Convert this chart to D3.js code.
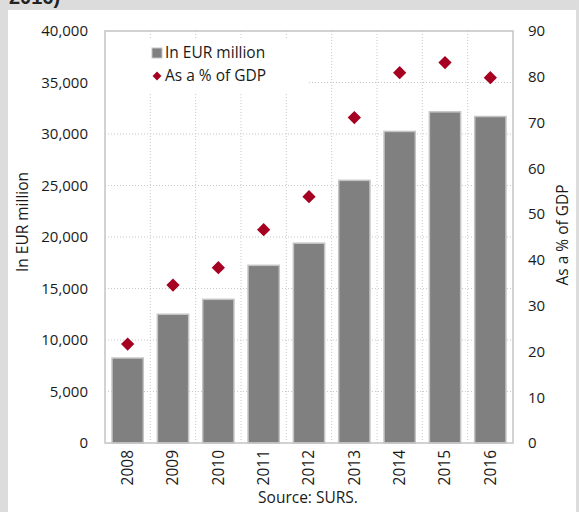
<!DOCTYPE html>
<html>
<head>
<meta charset="utf-8">
<script src="https://cdn.jsdelivr.net/npm/d3@7"></script>
<style>
  html, body { margin: 0; padding: 0; background: #dcdcdd; }
  svg { display: block; }
  text { font-family: "Open Sans", "Noto Sans", sans-serif; fill: #1a1a1a; }
</style>
</head>
<body>
<svg id="chart" width="579" height="512"></svg>
<script>
// Public debt of Slovenia, 2008-2016
const years = ["2008", "2009", "2010", "2011", "2012", "2013", "2014", "2015", "2016"];
const debtEUR = [8250, 12500, 13950, 17250, 19400, 25500, 30250, 32150, 31700];
const debtGDP = [21.6, 34.5, 38.3, 46.6, 53.8, 71.1, 80.9, 83.1, 79.8];
const leftTicks = [0, 5000, 10000, 15000, 20000, 25000, 30000, 35000, 40000];
const rightTicks = [0, 10, 20, 30, 40, 50, 60, 70, 80, 90];

const svg = d3.select("#chart");
const H = 512;
const plot = { left: 105, right: 513, top: 31, bottom: 443 };
const tickFont = "15px", labelFont = "15.5px";

// white panel on grey page
svg.append("rect").attr("x", 8).attr("y", 10).attr("width", 568).attr("height", H - 10).attr("fill", "#ffffff");

// heading line running off the top of the panel
svg.append("text").attr("x", 9).attr("y", 4)
  .style("font-family", "Liberation Sans, Arial, sans-serif")
  .style("font-weight", "bold").style("font-size", "20px").style("fill", "#222")
  .text("2016)");

const x = d3.scaleBand().domain(years).range([plot.left, plot.right]).paddingInner(0.31).paddingOuter(0.155);
const xStep = (plot.right - plot.left) / years.length;
const yL = d3.scaleLinear().domain([0, 40000]).range([plot.bottom, plot.top]);
const yR = d3.scaleLinear().domain([0, 90]).range([plot.bottom, plot.top]);

const grid = svg.append("g");
// horizontal dotted grid
grid.selectAll("line.h").data(leftTicks.filter(d => d > 0 && d < 40000)).join("line")
  .attr("x1", plot.left).attr("x2", plot.right)
  .attr("y1", d => yL(d)).attr("y2", d => yL(d))
  .attr("stroke", "#c9c9c9").attr("stroke-width", 1).attr("stroke-dasharray", "1,2");
// vertical dotted grid at category boundaries
grid.selectAll("line.v").data(d3.range(1, years.length)).join("line")
  .attr("x1", i => plot.left + i * xStep).attr("x2", i => plot.left + i * xStep)
  .attr("y1", plot.top).attr("y2", plot.bottom)
  .attr("stroke", "#c9c9c9").attr("stroke-width", 1).attr("stroke-dasharray", "1,2");

// bars
svg.append("g").selectAll("rect").data(years).join("rect")
  .attr("x", (d) => x(d))
  .attr("y", (d, i) => yL(debtEUR[i]))
  .attr("width", x.bandwidth())
  .attr("height", (d, i) => yL(0) - yL(debtEUR[i]))
  .attr("fill", "#808080").attr("stroke", "#c4c4c4").attr("stroke-width", 1.5);

// legend box (hides grid behind it)
const lg = svg.append("g");
lg.append("rect").attr("x", plot.left + 1).attr("y", 40).attr("width", 203).attr("height", 52).attr("fill", "#ffffff");

// diamonds
const diamond = d3.symbol().type(d3.symbolDiamond2).size(112);
svg.append("g").selectAll("path").data(years).join("path")
  .attr("d", diamond)
  .attr("transform", (d, i) => `translate(${x(d) + x.bandwidth() / 2},${yR(debtGDP[i])})`)
  .attr("fill", "#a50021");

// plot frame
svg.append("rect").attr("x", plot.left).attr("y", plot.top)
  .attr("width", plot.right - plot.left).attr("height", plot.bottom - plot.top)
  .attr("fill", "none").attr("stroke", "#c4c4c4").attr("stroke-width", 1.5);

// legend entries
lg.append("rect").attr("x", 152).attr("y", 48).attr("width", 10).attr("height", 10)
  .attr("fill", "#808080").attr("stroke", "#c4c4c4").attr("stroke-width", 1);
lg.append("text").attr("x", 165).attr("y", 58).style("font-size", labelFont).text("In EUR million");
lg.append("path").attr("d", d3.symbol().type(d3.symbolDiamond2).size(50))
  .attr("transform", "translate(157,76)").attr("fill", "#a50021");
lg.append("text").attr("x", 165).attr("y", 81).style("font-size", labelFont).text("As a % of GDP");

// left axis
const fmt = d3.format(",");
const axL = d3.axisLeft(yL).tickValues(leftTicks).tickFormat(fmt).tickSize(0).tickPadding(17);
const gL = svg.append("g").attr("transform", `translate(${plot.left},0)`).call(axL);
gL.select(".domain").remove();
gL.selectAll("text").style("font-size", tickFont).style("font-family", "'Open Sans', sans-serif").attr("fill", "#1a1a1a");

// right axis
const axR = d3.axisRight(yR).tickValues(rightTicks).tickSize(0).tickPadding(15);
const gR = svg.append("g").attr("transform", `translate(${plot.right},0)`).call(axR);
gR.select(".domain").remove();
gR.selectAll("text").style("font-size", tickFont).style("font-family", "'Open Sans', sans-serif").attr("fill", "#1a1a1a");

// category labels, rotated
svg.append("g").selectAll("text").data(years).join("text")
  .attr("transform", d => `translate(${x(d) + x.bandwidth() / 2},${plot.bottom + 7}) rotate(-90)`)
  .attr("text-anchor", "end").attr("dy", "0.35em")
  .style("font-size", labelFont).text(d => d);

// axis titles
svg.append("text").attr("transform", "translate(28,222) rotate(-90)")
  .attr("text-anchor", "middle").style("font-size", labelFont).text("In EUR million");
svg.append("text").attr("transform", "translate(568,235) rotate(-90)")
  .attr("text-anchor", "middle").style("font-size", labelFont).text("As a % of GDP");

// source note
svg.append("text").attr("x", 308).attr("y", 503).attr("text-anchor", "middle")
  .style("font-size", labelFont).text("Source: SURS.");
</script>
</body>
</html>
